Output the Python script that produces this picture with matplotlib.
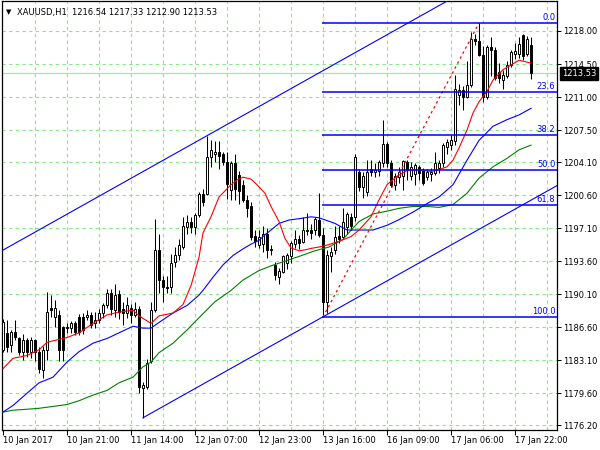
import matplotlib
matplotlib.use("Agg")
import matplotlib.pyplot as plt
from matplotlib.transforms import blended_transform_factory

# ---------------- data ----------------
title_symbol = "XAUUSD,H1"
title_ohlc = "1216.54 1217.33 1212.90 1213.53"
bid_price = 1213.53

opens = [1184.2, 1186.0, 1184.7, 1186.1, 1185.5, 1184.0, 1185.2, 1184.0, 1185.2, 1184.0,
         1182.1, 1184.2, 1188.6, 1187.7, 1187.9, 1186.6, 1186.6, 1186.5, 1187.0, 1187.7,
         1187.7, 1187.7, 1187.9, 1187.0, 1187.4, 1188.1, 1189.0, 1190.2, 1188.4, 1190.1,
         1188.5, 1188.1, 1188.6, 1187.9, 1188.5, 1180.2, 1180.3, 1183.0, 1188.4, 1194.8,
         1191.6, 1190.9, 1190.9, 1193.5, 1194.2, 1195.1, 1197.2, 1197.8, 1197.2, 1198.5,
         1200.7, 1200.7, 1204.6, 1205.0, 1205.2, 1205.0, 1204.1, 1201.1, 1204.0, 1202.7,
         1201.7, 1200.1, 1199.4, 1196.3, 1195.3, 1195.4, 1196.5, 1194.8, 1193.2, 1191.9,
         1192.5, 1193.4, 1194.1, 1195.4, 1196.0, 1195.6, 1196.8, 1196.9, 1196.9, 1198.0,
         1196.4, 1189.3, 1194.1, 1194.8, 1196.3, 1196.2, 1197.2, 1198.3, 1198.3, 1203.1,
         1201.5, 1200.9, 1203.4, 1203.1, 1203.2, 1204.0, 1206.0, 1204.0, 1201.7, 1202.5,
         1202.6, 1204.1, 1202.6, 1202.8, 1203.6, 1203.3, 1202.5, 1202.8, 1202.9, 1203.5,
         1204.0, 1205.7, 1205.9, 1206.3, 1211.2, 1211.7, 1211.0, 1212.3, 1217.1, 1216.9,
         1215.5, 1211.0, 1216.3, 1216.0, 1213.7, 1212.8, 1213.2, 1214.4, 1215.6, 1215.6,
         1217.6, 1215.6, 1216.54]
highs = [1187.5, 1187.4, 1186.3, 1187.4, 1185.6, 1185.9, 1185.5, 1185.6, 1185.4, 1184.5,
         1184.6, 1190.3, 1190.0, 1189.5, 1188.4, 1186.7, 1187.0, 1187.3, 1187.3, 1188.0,
         1188.1, 1188.4, 1188.2, 1188.2, 1188.5, 1189.2, 1190.7, 1190.6, 1191.2, 1190.5,
         1189.3, 1189.8, 1189.1, 1189.3, 1188.8, 1180.8, 1183.2, 1189.3, 1198.1, 1196.5,
         1192.0, 1192.0, 1194.4, 1195.1, 1196.0, 1198.3, 1198.5, 1198.3, 1198.7, 1200.9,
         1201.2, 1206.9, 1206.4, 1206.3, 1206.3, 1205.2, 1205.2, 1204.2, 1205.0, 1203.2,
         1202.2, 1200.6, 1199.9, 1196.9, 1196.9, 1197.3, 1197.1, 1195.3, 1193.5, 1192.9,
         1194.2, 1194.5, 1195.7, 1196.9, 1196.4, 1198.3, 1198.7, 1197.5, 1198.3, 1200.8,
         1197.1, 1194.8, 1195.1, 1197.3, 1197.3, 1199.2, 1198.8, 1198.7, 1205.0, 1203.4,
         1203.1, 1204.3, 1204.3, 1204.0, 1204.3, 1208.6, 1206.2, 1204.3, 1202.9, 1203.6,
         1204.3, 1204.3, 1204.1, 1204.0, 1203.8, 1203.5, 1203.4, 1203.5, 1205.2, 1204.3,
         1206.1, 1206.6, 1207.0, 1213.3, 1212.4, 1212.2, 1214.8, 1217.9, 1217.7, 1218.85,
         1216.4, 1216.5, 1217.4, 1216.3, 1214.6, 1213.9, 1214.8, 1216.0, 1216.7, 1217.4,
         1217.7, 1217.5, 1217.33]
lows = [1184.0, 1184.0, 1184.0, 1185.2, 1183.6, 1183.1, 1183.4, 1183.3, 1183.0, 1181.7,
        1181.2, 1183.1, 1187.7, 1186.6, 1183.0, 1183.0, 1186.0, 1186.0, 1185.8, 1185.8,
        1185.9, 1187.4, 1186.5, 1186.5, 1187.0, 1187.6, 1188.6, 1187.9, 1187.7, 1187.5,
        1186.8, 1187.6, 1187.0, 1187.7, 1179.6, 1177.0, 1180.0, 1182.8, 1188.2, 1190.2,
        1189.3, 1190.2, 1190.2, 1193.0, 1193.7, 1194.9, 1196.5, 1196.6, 1196.5, 1198.3,
        1199.5, 1200.6, 1203.6, 1204.1, 1203.4, 1203.8, 1200.2, 1200.1, 1200.1, 1199.7,
        1199.9, 1198.3, 1195.8, 1195.1, 1195.0, 1194.6, 1193.9, 1194.2, 1191.6, 1191.2,
        1192.3, 1192.8, 1193.4, 1195.0, 1194.9, 1195.5, 1196.4, 1196.0, 1196.4, 1196.2,
        1187.67, 1188.1, 1192.5, 1194.4, 1195.5, 1196.0, 1196.5, 1196.9, 1197.9, 1201.0,
        1200.3, 1200.5, 1202.6, 1202.5, 1202.6, 1203.6, 1203.6, 1201.5, 1201.1, 1201.9,
        1201.1, 1202.2, 1202.2, 1201.7, 1202.2, 1201.7, 1202.2, 1202.1, 1202.7, 1202.9,
        1203.6, 1205.0, 1205.4, 1205.9, 1210.2, 1209.6, 1210.9, 1212.1, 1216.5, 1215.3,
        1210.5, 1210.8, 1213.2, 1212.8, 1212.5, 1211.9, 1213.0, 1214.2, 1215.0, 1215.1,
        1214.9, 1215.3, 1212.90]
closes = [1187.2, 1184.5, 1186.1, 1185.6, 1184.0, 1185.2, 1184.0, 1185.2, 1184.0, 1182.2,
          1184.2, 1188.2, 1188.4, 1188.6, 1184.2, 1184.2, 1186.5, 1187.0, 1186.1, 1186.1,
          1186.3, 1187.9, 1186.8, 1187.4, 1188.1, 1189.0, 1190.2, 1188.5, 1190.0, 1188.2,
          1188.1, 1189.0, 1187.9, 1188.5, 1180.3, 1180.5, 1182.8, 1188.4, 1194.8, 1191.6,
          1190.9, 1190.8, 1193.4, 1194.2, 1195.3, 1197.3, 1197.8, 1197.2, 1198.5, 1200.7,
          1199.9, 1204.6, 1205.4, 1205.2, 1204.8, 1204.1, 1201.8, 1204.0, 1201.3, 1201.0,
          1200.1, 1199.2, 1196.2, 1195.7, 1196.2, 1196.5, 1194.8, 1194.9, 1192.1, 1192.6,
          1194.1, 1194.2, 1195.5, 1196.0, 1195.5, 1196.9, 1196.9, 1196.6, 1198.1, 1196.4,
          1189.3, 1194.3, 1194.6, 1196.2, 1196.0, 1197.8, 1198.6, 1197.3, 1204.6, 1201.5,
          1202.6, 1203.1, 1203.1, 1203.3, 1204.1, 1206.0, 1204.0, 1201.7, 1202.6, 1203.1,
          1204.2, 1203.3, 1203.6, 1203.8, 1202.9, 1201.9, 1203.1, 1203.1, 1204.0, 1204.0,
          1205.9, 1206.2, 1206.4, 1211.9, 1211.7, 1211.0, 1212.3, 1217.1, 1216.9, 1215.5,
          1211.0, 1216.3, 1216.0, 1213.0, 1213.0, 1213.3, 1214.4, 1215.8, 1215.9, 1216.6,
          1215.3, 1217.2, 1213.53]

# moving averages (bar position, price)
ma_fast_bars = [0, 2.5, 6, 9, 11, 16, 19, 22.5, 26, 29, 32.5, 34, 37, 39, 42.5, 45, 47, 49, 50,
                52, 54, 57, 58.5, 60, 62, 63.5, 65.5, 67, 69, 70.5, 72, 74, 75.5, 77, 79, 81,
                84, 87, 89, 92, 94, 96, 98.5, 101, 104, 107, 109, 111, 112.5, 114, 116, 117.5,
                119, 121, 122.5, 125, 127, 129, 132]
ma_fast_vals = [1182.2, 1183.3, 1183.6, 1184.2, 1185.0, 1185.5, 1186.0, 1187.0, 1187.9, 1188.2,
                1188.4, 1187.8, 1187.0, 1187.8, 1188.1, 1189.0, 1191.0, 1194.0, 1196.6,
                1198.3, 1200.4, 1201.7, 1202.2, 1202.5, 1202.3, 1201.7, 1200.8, 1199.4, 1197.8,
                1196.0, 1195.0, 1194.7, 1194.8, 1194.95, 1195.1, 1195.3, 1195.7, 1196.2,
                1196.9, 1198.3, 1200.1, 1201.7, 1202.6, 1203.2, 1203.3, 1203.1, 1203.3,
                1203.6, 1204.3, 1205.6, 1207.5, 1209.3, 1210.5, 1211.6, 1212.8, 1213.9,
                1214.4, 1214.9, 1214.6]
ma_mid_bars = [0, 2.5, 6, 9, 12.5, 16, 19, 22.5, 26, 29, 32.5, 35, 37, 39, 42.5, 46, 49, 50,
               52.5, 55, 57.5, 60, 62, 64, 65.5, 67, 69, 71.5, 74, 77, 79, 81, 83, 86, 89,
               92.5, 96, 99, 102.5, 106, 109, 112.5, 116, 119, 122.5, 126, 129, 132]
ma_mid_vals = [1177.6, 1178.3, 1179.6, 1180.7, 1181.3, 1182.9, 1184.0, 1184.9, 1185.4, 1186.0,
               1186.7, 1186.5, 1186.5, 1187.1, 1188.1, 1188.9, 1190.0, 1190.5, 1191.9, 1193.2,
               1194.2, 1194.9, 1195.4, 1195.8, 1196.4, 1196.9, 1197.6, 1197.96, 1198.1,
               1198.3, 1198.2, 1197.9, 1197.6, 1196.9, 1196.9, 1196.9, 1197.4, 1198.0,
               1198.8, 1199.7, 1200.4, 1201.7, 1204.3, 1206.4, 1207.9, 1208.6, 1209.1, 1209.8]
ma_slow_bars = [0, 2.5, 6, 9, 12.5, 16, 19, 22.5, 26, 29, 32.5, 35, 37, 39, 42.5, 46, 49, 53,
                57, 60, 64, 67, 70.5, 74, 78, 81.5, 85, 86, 89, 92.5, 96, 99, 102.5, 106, 109,
                112.5, 116, 119, 122.5, 126, 129, 132]
ma_slow_vals = [1177.6, 1177.8, 1177.9, 1178.0, 1178.2, 1178.4, 1178.8, 1179.4, 1179.9, 1180.7,
                1181.3, 1182.4, 1182.9, 1183.9, 1184.9, 1186.3, 1187.6, 1189.3, 1190.5,
                1191.6, 1192.6, 1193.1, 1193.6, 1194.1, 1194.7, 1195.1, 1195.9, 1196.4,
                1197.8, 1198.6, 1198.9, 1199.2, 1199.4, 1199.4, 1199.3, 1199.6, 1200.8,
                1202.4, 1203.6, 1204.5, 1205.4, 1205.9]

# equidistant channel: two anchors on the lower line, one on the upper line
channel_low_bars = [35, 80]
channel_low_prices = [1177.0, 1187.7]
channel_high_bar = 51
channel_high_price = 1206.9

# fibonacci retracement
fib_bars = [80, 119]
fib_prices = [1187.67, 1218.85]
fib_levels = [0.0, 23.6, 38.2, 50.0, 61.8, 100.0]

price_ticks = [1218.00, 1214.50, 1211.00, 1207.50, 1204.10, 1200.60, 1197.10,
               1193.60, 1190.10, 1186.60, 1183.10, 1179.60, 1176.20]
time_tick_bars = [0, 16, 32, 48, 64, 80, 96, 112, 128]
time_tick_labels = ["10 Jan 2017", "10 Jan 21:00", "11 Jan 14:00", "12 Jan 07:00",
                    "12 Jan 23:00", "13 Jan 16:00", "16 Jan 09:00", "17 Jan 06:00",
                    "17 Jan 22:00"]

# ---------------- figure ----------------
W, H = 600, 450
fig = plt.figure(figsize=(6, 4.5), dpi=100)
fig.patch.set_facecolor("white")
ax = fig.add_axes([2 / W, 20 / H, 555 / W, 429 / H])
ax.set_facecolor("white")
ax.set_xlim(-0.25, 138.5)
ax.set_ylim(1175.70, 1221.18)

grid_col = "#88e888"
for p in price_ticks:
    ax.axhline(p, color=grid_col, lw=0.8, ls=(0, (3, 3)), zorder=0)
for b in range(8, 139, 8):
    ax.axvline(b, color=grid_col, lw=0.8, ls=(0, (3, 3)), zorder=0)

# bid line
ax.axhline(bid_price, color="#99ee99", lw=0.9, zorder=1)

# candles
n = len(opens)
for i in range(n):
    o, h, l, c = opens[i], highs[i], lows[i], closes[i]
    ax.vlines(i, l, h, color="black", lw=0.75, zorder=3)
    bull = c >= o
    bottom = min(o, c)
    height = max(abs(c - o), 0.08)
    ax.bar(i, height, bottom=bottom, width=0.68,
           facecolor="white" if bull else "black", edgecolor="black",
           linewidth=0.7, zorder=4)

# moving averages
ax.plot(ma_slow_bars, ma_slow_vals, color="#008000", lw=0.8, zorder=5)
ax.plot(ma_mid_bars, ma_mid_vals, color="#0000ff", lw=0.8, zorder=5)
ax.plot(ma_fast_bars, ma_fast_vals, color="#ff0000", lw=0.8, zorder=5)

# channel
slope = (channel_low_prices[1] - channel_low_prices[0]) / (channel_low_bars[1] - channel_low_bars[0])
x_end = 138.5
ax.plot([channel_low_bars[0], x_end],
        [channel_low_prices[0], channel_low_prices[0] + slope * (x_end - channel_low_bars[0])],
        color="#0000ff", lw=0.8, zorder=6)
x_start = -0.25
ax.plot([x_start, x_end],
        [channel_high_price + slope * (x_start - channel_high_bar),
         channel_high_price + slope * (x_end - channel_high_bar)],
        color="#0000ff", lw=0.8, zorder=6)

# fibonacci
ax.plot(fib_bars, fib_prices, color="#ff0000", lw=0.9, ls=(0, (2, 2.5)), zorder=6)
rng = fib_prices[1] - fib_prices[0]
tr = blended_transform_factory(ax.transAxes, ax.transData)
for lv in fib_levels:
    p = fib_prices[1] - rng * lv / 100.0
    ax.hlines(p, fib_bars[0] - 0.25, x_end, color="#0000ff", lw=1.1, zorder=6)
    ax.text(0.997, p + 0.12, f"{lv:.1f}", transform=tr, ha="right", va="bottom",
            color="#0000ff", fontsize=6, zorder=7)

# axes styling
for s in ax.spines.values():
    s.set_color("black")
    s.set_linewidth(0.9)
ax.yaxis.tick_right()
ax.set_yticks(price_ticks)
ax.set_yticklabels([f"{p:.2f}" for p in price_ticks])
ax.tick_params(axis="y", direction="out", length=3, width=0.7, pad=1.5,
               labelsize=6, colors="black")
ax.set_xticks(time_tick_bars)
ax.set_xticklabels(time_tick_labels)
ax.tick_params(axis="x", direction="out", length=3.5, width=0.7, pad=0.5,
               labelsize=6, colors="black")
for lbl in ax.get_xticklabels():
    lbl.set_ha("left")

# bid price box
ax.text(1.0085, bid_price, f"{bid_price:.2f}", transform=tr, ha="left", va="center",
        color="white", fontsize=6, clip_on=False, zorder=10,
        bbox=dict(boxstyle="square,pad=0.25", facecolor="black", edgecolor="black"))

# title
fig.text(6 / W, 1 - 12 / H, "\u25bc", fontsize=5, ha="left", va="center", color="black")
fig.text(17 / W, 1 - 12 / H, f"{title_symbol}  {title_ohlc}", fontsize=6,
         ha="left", va="center", color="black")

fig.savefig("out.png", dpi=100)
